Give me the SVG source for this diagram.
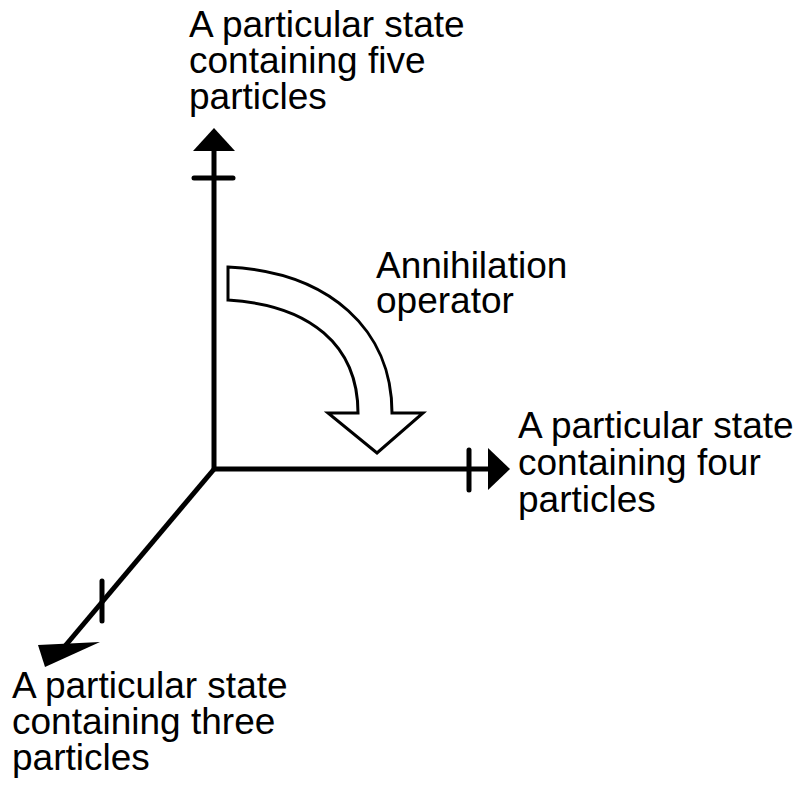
<svg xmlns="http://www.w3.org/2000/svg" width="805" height="785" viewBox="0 0 805 785">
<style>
text{font-family:"Liberation Sans",Arial,sans-serif;font-size:37px;fill:#000}
.ax{stroke:#000;stroke-width:5;fill:none}
.tk{stroke:#000;stroke-width:5;stroke-linecap:round}
.ah{fill:#000;stroke:none}
</style>
<rect width="805" height="785" fill="#fff"/>
<g id="connectors">
<line class="ax" x1="214" y1="471" x2="214" y2="148"/>
<polygon class="ah" points="214,128 235,151 193,151"/>
<line class="tk" x1="194" y1="178" x2="233" y2="178"/>
<line class="ax" x1="212" y1="469" x2="490" y2="469"/>
<polygon class="ah" points="488,448 510,469 488,490"/>
<line class="tk" x1="469" y1="450" x2="469" y2="490"/>
<line class="ax" x1="215" y1="468" x2="60" y2="652"/>
<polygon class="ah" points="38,645 100,642 45,667"/>
<line class="tk" x1="102" y1="581" x2="102" y2="621"/>
</g>
<g id="annihilation">
<path d="M228,267 C330,272 392,330 392,413 L423,413 L377,453 L328,413 L358,413 C358,345 310,305 228,300 Z" fill="#fff" stroke="#000" stroke-width="3" stroke-linejoin="miter"/>
<text x="376" y="278">Annihilation</text>
<text x="376" y="313">operator</text>
</g>
<g id="state5">
<text x="189" y="37">A particular state</text>
<text x="189" y="73">containing five</text>
<text x="189" y="109">particles</text>
</g>
<g id="state4">
<text x="518" y="438">A particular state</text>
<text x="518" y="475">containing four</text>
<text x="518" y="512">particles</text>
</g>
<g id="state3">
<text x="12" y="698">A particular state</text>
<text x="12" y="734">containing three</text>
<text x="12" y="770">particles</text>
</g>
</svg>
